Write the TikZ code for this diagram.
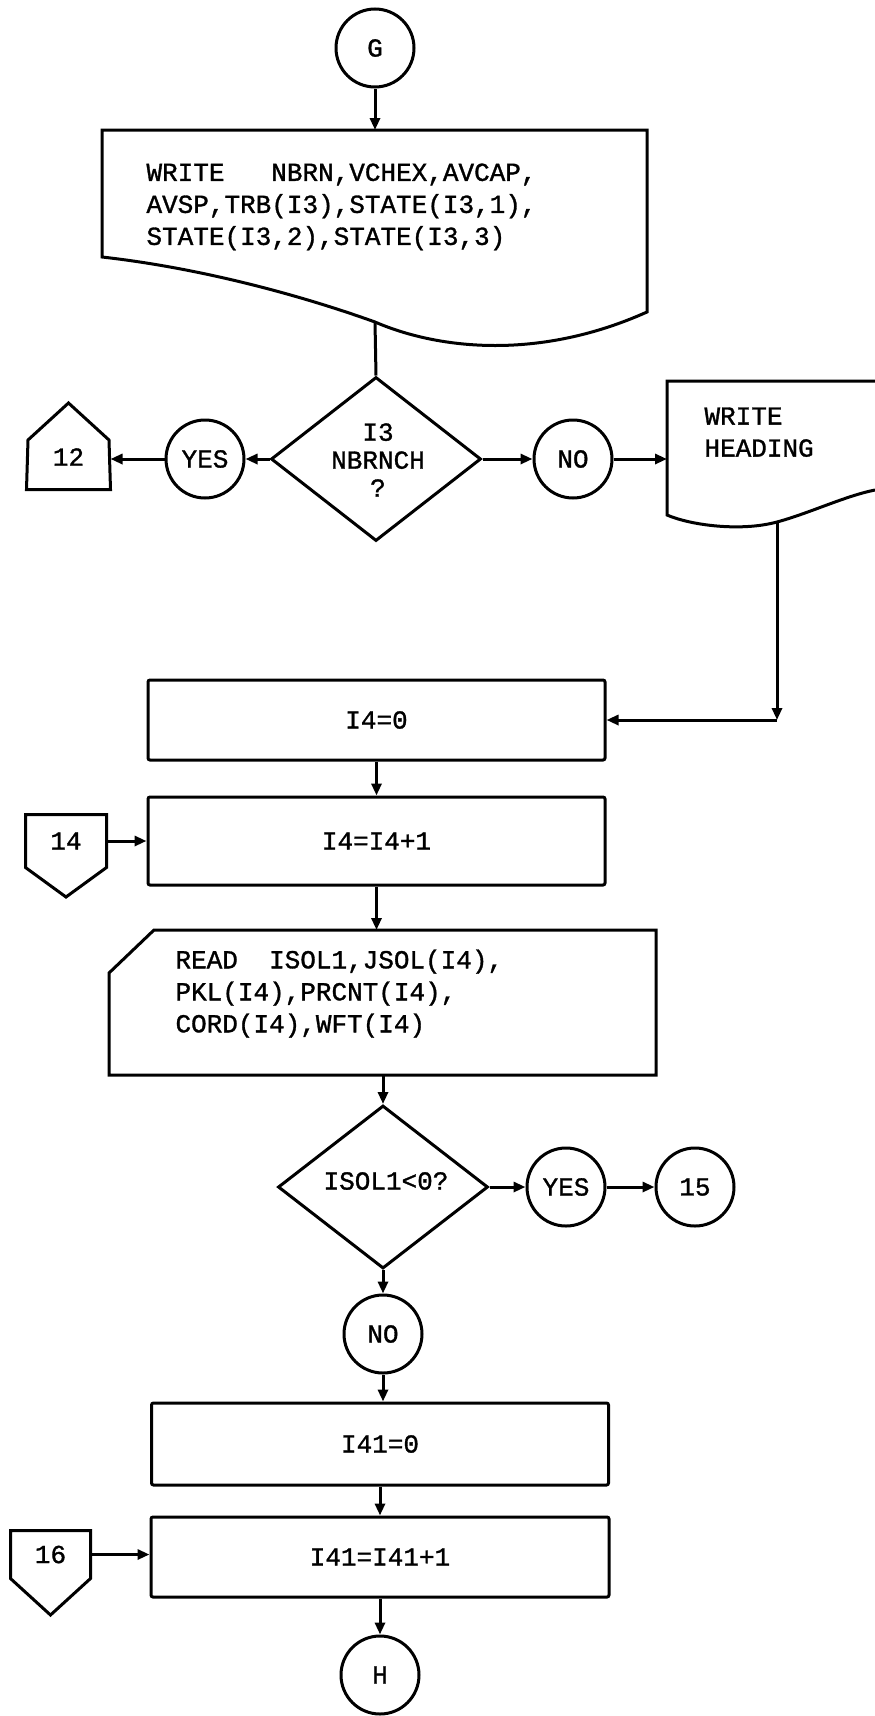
\documentclass[tikz,border=0pt]{standalone}
\usepackage{fontspec}
\setmainfont{Liberation Mono}[FakeBold=1.2]
\usetikzlibrary{arrows.meta,shapes.geometric}
\begin{document}
\begin{tikzpicture}[x=1pt,y=-1pt,line width=3pt,
  every node/.style={font=\fontsize{26}{32}\selectfont,inner sep=0pt},
  arr/.style={-{Triangle[length=12pt,width=10pt]}},
  conn/.style={circle,draw,minimum size=78pt},
  proc/.style={rectangle,draw,rounded corners=2pt},
  dec/.style={diamond,draw},
  lbl/.style={rectangle,draw=none}]
\useasboundingbox (0,0) rectangle (875,1716);

% top connector and first document
\node[conn] (g) at (375,48) {G};
\coordinate (doc1top) at (375,130);
\coordinate (doc1out) at (375,322);
\draw (102,257) -- (102,130) -- (647,130) -- (647,312)
  .. controls (540,360) and (440,350) .. (375,322)
  .. controls (300,295) and (200,268) .. (102,257) -- cycle;
\node[anchor=north west,align=left] (doc1) at (145,162)
  {WRITE~~~NBRN,VCHEX,AVCAP,\\AVSP,TRB(I3),STATE(I3,1),\\STATE(I3,2),STATE(I3,3)};
\draw[arr] (g.south) -- (doc1top);

% first decision
\node[dec,minimum width=210pt,minimum height=164pt] (d1) at (376,459) {};
\node[lbl,align=center,font=\fontsize{26}{28}\selectfont] (d1t) at (378,460) {I3\\NBRNCH\\?};
\draw (doc1out) -- (d1.north);
\node[conn] (yes1) at (205,459) {YES};
\node[lbl,minimum width=81pt,minimum height=62pt] (p12) at (68.5,457) {12};
\draw (p12.south west) -- (28,440) -- (68.5,403) -- (109,440) -- (p12.south east) -- cycle;
\draw[arr] (d1.west) -- (yes1.east);
\draw[arr] (yes1.west) -- (yes1.west -| p12.east);
\node[conn] (no1) at (573,459) {NO};
\draw[arr] (d1.east) -- (no1.west);

% write heading document
\draw (875,381) -- (667,381) -- (667,515)
  .. controls (690,525) and (740,532) .. (777,522)
  .. controls (810,513) and (845,496) .. (875,490);
\node[anchor=north west,align=left] (wh) at (703,406) {WRITE\\HEADING};
\coordinate (whin) at (667,459);
\coordinate (whout) at (777,522);
\coordinate (wcorner) at (777,720);
\draw[arr] (no1.east) -- (whin);

% I4 loop
\node[proc,minimum width=457pt,minimum height=80pt] (i40) at (376.5,720) {I4=0};
\draw[arr] (whout) -- (wcorner);
\draw[arr] (wcorner) -- (i40.east);
\node[proc,minimum width=457pt,minimum height=88pt] (i4inc) at (376.5,841) {I4=I4+1};
\draw[arr] (i40.south) -- (i4inc.north);
\node[lbl,minimum width=78pt,minimum height=50pt] (p14) at (66,841) {14};
\draw (p14.south west) -- (p14.north west) -- (p14.north east) -- (p14.south east) -- (66,897) -- cycle;
\draw[arr] (p14.east) -- (p14.east -| i4inc.west);

% read card
\coordinate (readtop) at (379,930);
\coordinate (readbot) at (383,1075);
\draw (154,930) -- (656,930) -- (656,1075) -- (109,1075) -- (109,973) -- cycle;
\node[anchor=north west,align=left] (readt) at (174,948)
  {READ~~ISOL1,JSOL(I4),\\PKL(I4),PRCNT(I4),\\CORD(I4),WFT(I4)};
\draw[arr] (i4inc.south) -- (i4inc.south |- readtop);

% second decision
\node[dec,minimum width=210pt,minimum height=163pt] (d2) at (383,1187) {};
\node[lbl] (d2t) at (386,1181) {ISOL1<0?};
\draw[arr] (readbot) -- (d2.north);
\node[conn] (yes2) at (566,1187) {YES};
\node[conn] (c15) at (695,1187) {15};
\draw[arr] (d2.east) -- (yes2.west);
\draw[arr] (yes2.east) -- (c15.west);
\node[conn] (no2) at (383,1334) {NO};
\draw[arr] (d2.south) -- (no2.north);

% I41 loop
\node[proc,minimum width=457pt,minimum height=82pt] (i410) at (380,1444) {I41=0};
\draw[arr] (no2.south) -- (no2.south |- i410.north);
\node[proc,minimum width=458pt,minimum height=80pt] (i41inc) at (380,1557) {I41=I41+1};
\draw[arr] (i410.south) -- (i41inc.north);
\node[lbl,minimum width=77pt,minimum height=45pt] (p16) at (50.5,1554.5) {16};
\draw (p16.south west) -- (p16.north west) -- (p16.north east) -- (p16.south east) -- (50.5,1615) -- cycle;
\draw[arr] (p16.east) -- (p16.east -| i41inc.west);
\node[conn] (h) at (380,1675) {H};
\draw[arr] (i41inc.south) -- (h.north);
\end{tikzpicture}
\end{document}
